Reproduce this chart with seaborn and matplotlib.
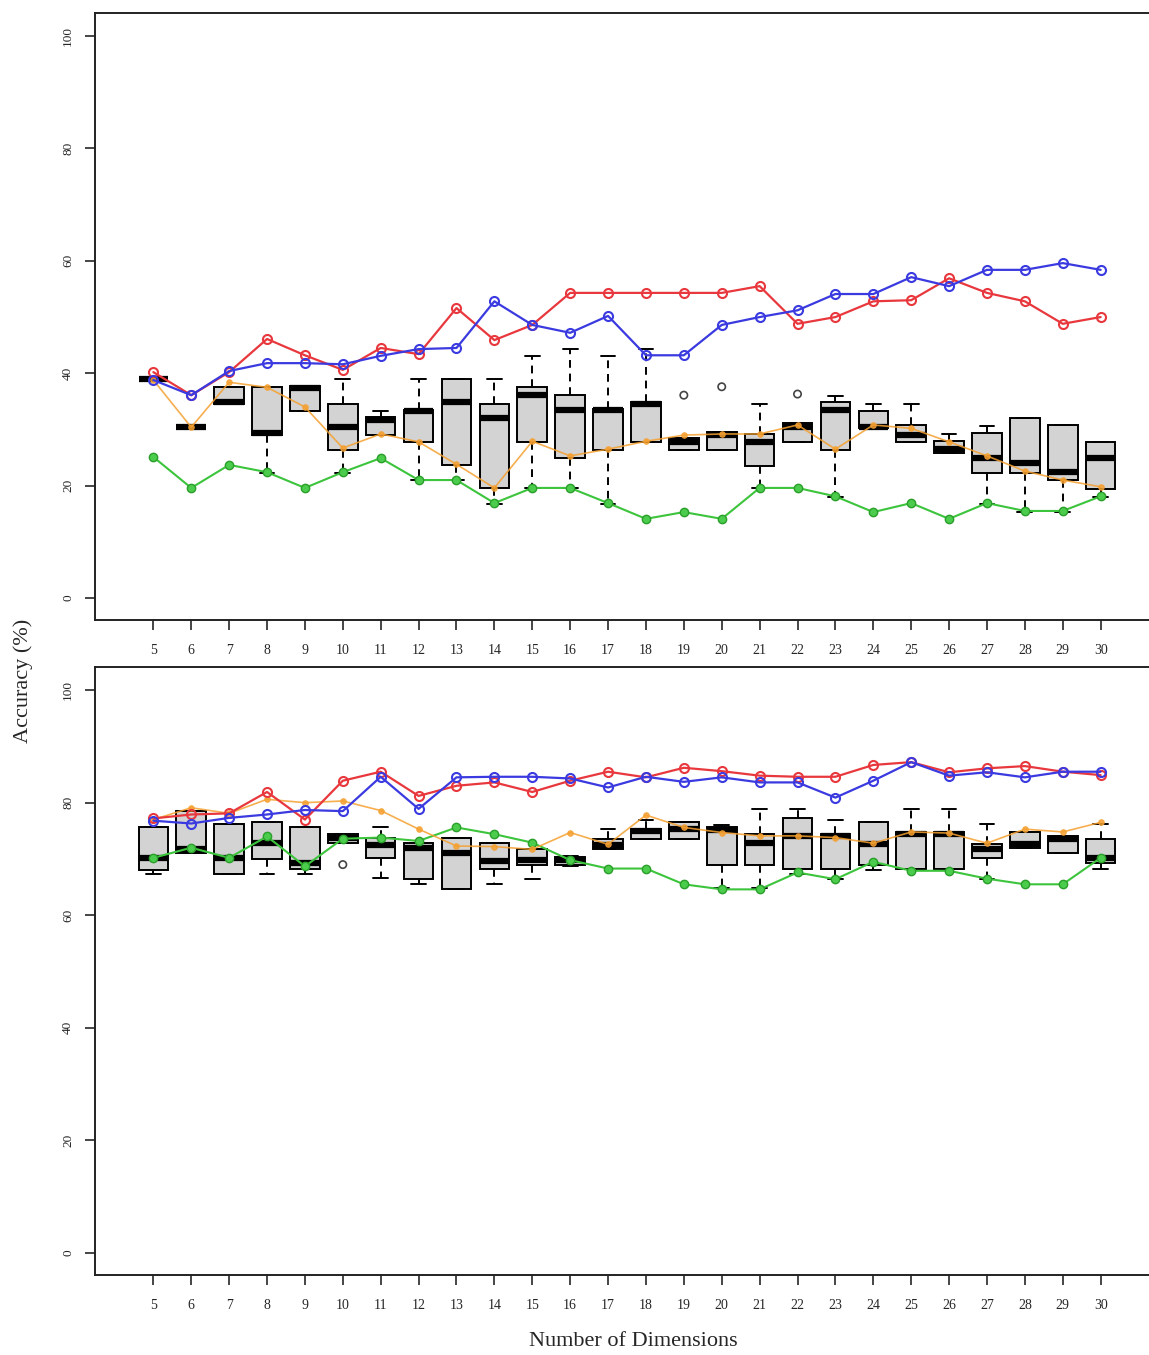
import numpy as np
import pandas as pd
import matplotlib
matplotlib.use("Agg")
import matplotlib.pyplot as plt
import seaborn as sns

dims = list(range(5, 31))

# ---- top panel: lines
top_blue = [38.8, 36.1, 40.4, 41.8, 41.8, 41.6, 43.1, 44.3, 44.5, 52.8, 48.6, 47.2, 50.2,
            43.2, 43.2, 48.6, 50.0, 51.2, 54.1, 54.1, 57.1, 55.5, 58.4, 58.4, 59.6, 58.4]
top_red = [40.2, 36.1, 40.2, 46.1, 43.2, 40.6, 44.5, 43.4, 51.6, 45.9, 48.6, 54.3, 54.3,
           54.3, 54.3, 54.3, 55.5, 48.8, 50.0, 52.8, 53.0, 56.9, 54.3, 52.8, 48.8, 50.0]
top_green = [25.1, 19.6, 23.7, 22.4, 19.6, 22.4, 24.9, 21.0, 21.0, 16.9, 19.6, 19.6, 16.9,
             14.1, 15.3, 14.1, 19.6, 19.6, 18.1, 15.3, 16.9, 14.1, 16.9, 15.5, 15.5, 18.1]
top_orange = [38.8, 30.4, 38.4, 37.5, 34.0, 26.7, 29.2, 27.8, 23.8, 19.6, 27.9, 25.3, 26.5,
              27.9, 29.0, 29.2, 29.2, 30.8, 26.5, 30.8, 30.2, 27.8, 25.3, 22.6, 21.0, 19.8]

# ---- top panel: boxes (whisker low, q1, median, q3, whisker high)
top_lo = [38.9, 30.5, 34.5, 22.2, 33.3, 22.2, 29.0, 21.0, 21.0, 16.8, 19.5, 19.5, 16.7,
          27.8, 26.3, 26.3, 19.5, 27.7, 18.0, 30.2, 27.7, 25.9, 16.8, 15.4, 15.4, 18.0]
top_q1 = [38.9, 30.5, 34.5, 29.0, 33.3, 26.3, 29.0, 27.7, 23.6, 19.5, 27.7, 25.0, 26.3,
          27.8, 26.3, 26.3, 23.5, 27.7, 26.3, 30.2, 27.7, 25.9, 22.3, 22.3, 21.0, 19.4]
top_med = [38.9, 30.5, 34.8, 29.4, 37.3, 30.5, 31.7, 33.3, 34.8, 32.0, 36.2, 33.4, 33.4,
           34.6, 27.8, 29.1, 27.8, 30.5, 33.5, 30.5, 29.1, 26.5, 25.0, 24.0, 22.5, 25.0]
top_q3 = [38.9, 30.5, 37.5, 37.5, 37.8, 34.6, 32.2, 33.5, 39.0, 34.6, 37.6, 36.1, 33.6,
          34.9, 28.4, 29.5, 29.2, 31.1, 34.8, 33.3, 30.8, 27.9, 29.3, 32.0, 30.8, 27.7]
top_hi = [38.9, 30.5, 37.5, 37.5, 37.8, 38.9, 33.3, 38.9, 39.0, 38.9, 43.0, 44.4, 43.0,
          44.4, 28.4, 29.5, 34.6, 31.1, 36.0, 34.6, 34.6, 29.2, 30.7, 32.0, 30.8, 27.7]
top_out_dims = [19, 20, 22]
top_out_vals = [36.1, 37.6, 36.3]

# ---- bottom panel: lines
bot_blue = [76.8, 76.3, 77.3, 77.9, 78.7, 78.5, 84.6, 78.9, 84.5, 84.6, 84.6, 84.3, 82.7,
            84.6, 83.7, 84.5, 83.6, 83.6, 80.9, 83.9, 87.2, 84.8, 85.4, 84.5, 85.5, 85.5]
bot_red = [77.2, 77.9, 78.1, 81.9, 77.0, 83.9, 85.5, 81.2, 83.0, 83.6, 81.9, 83.9, 85.5,
           84.5, 86.2, 85.6, 84.8, 84.6, 84.6, 86.7, 87.2, 85.4, 86.1, 86.5, 85.5, 84.9]
bot_green = [70.2, 72.0, 70.2, 74.0, 68.7, 73.6, 73.8, 73.2, 75.6, 74.4, 72.9, 69.8, 68.3,
             68.3, 65.5, 64.6, 64.6, 67.6, 66.4, 69.5, 67.9, 67.9, 66.5, 65.5, 65.5, 70.2]
bot_orange = [77.0, 79.1, 78.1, 80.6, 80.0, 80.3, 78.6, 75.3, 72.3, 72.2, 71.7, 74.7, 72.6,
              77.8, 75.6, 74.7, 74.1, 74.1, 73.8, 72.8, 74.8, 74.6, 72.8, 75.3, 74.8, 76.5]

# ---- bottom panel: boxes
bot_lo = [67.3, 71.0, 67.3, 67.3, 67.3, 72.9, 66.7, 65.5, 64.6, 65.5, 66.5, 68.8, 71.7,
          73.6, 73.6, 64.9, 64.9, 67.3, 66.4, 68.1, 68.3, 68.3, 66.5, 72.0, 71.0, 68.3]
bot_q1 = [68.1, 71.0, 67.3, 70.0, 68.3, 72.9, 70.2, 66.4, 64.6, 68.3, 68.9, 69.0, 71.7,
          73.6, 73.6, 69.0, 69.0, 68.3, 68.3, 69.0, 68.3, 68.3, 70.2, 72.0, 71.0, 69.3]
bot_med = [70.2, 71.7, 70.2, 72.8, 69.3, 73.8, 72.4, 72.0, 71.0, 69.7, 69.8, 69.8, 72.4,
           75.0, 75.3, 75.2, 72.9, 74.0, 74.1, 72.6, 74.4, 74.5, 71.8, 72.7, 73.5, 70.2]
bot_q3 = [75.6, 78.5, 76.3, 76.5, 75.6, 74.5, 73.7, 72.8, 73.7, 72.8, 71.7, 70.4, 73.6,
          75.4, 76.5, 75.6, 74.5, 77.3, 74.5, 76.5, 74.8, 74.8, 72.6, 74.8, 74.1, 73.6]
bot_hi = [75.6, 78.5, 76.3, 76.5, 75.6, 74.5, 75.7, 72.8, 73.7, 72.8, 71.7, 70.5, 75.4,
          77.0, 76.5, 76.0, 78.8, 78.8, 77.0, 76.5, 78.8, 78.8, 76.2, 74.8, 74.1, 76.2]
bot_out_dims = [10]
bot_out_vals = [69.0]

yticks = [0, 20, 40, 60, 80, 100]

sns.set_style("ticks")
plt.rcParams['font.family'] = ['Liberation Serif', 'DejaVu Serif']


def box_frame(lo, q1, med, q3, hi):
    # five values per dimension -> exact quartiles with whiskers at min/max
    rows = []
    for d, a, b, c, e, f in zip(dims, lo, q1, med, q3, hi):
        for v in (a, b, c, e, f):
            rows.append((d, v))
    return pd.DataFrame(rows, columns=['dim', 'acc'])


def panel(ax, lo, q1, med, q3, hi, out_d, out_v, blue, red, green, orange):
    df = box_frame(lo, q1, med, q3, hi)
    sns.boxplot(data=df, x='dim', y='acc', ax=ax, native_scale=True, whis=(0, 100),
                color='#d3d3d3', saturation=1, linecolor='black', linewidth=1.4,
                width=0.78, showfliers=False,
                medianprops=dict(linewidth=4.5, color='black'),
                whiskerprops=dict(linestyle=(0, (4, 3)), linewidth=1.4),
                capprops=dict(linewidth=1.4))
    sns.scatterplot(x=out_d, y=out_v, ax=ax, marker='o', s=28, facecolor='none',
                    edgecolor='#444444', linewidth=1.2, zorder=5)
    sns.lineplot(x=dims, y=green, ax=ax, color='#3cc43c', linewidth=1.5, marker='o',
                 markersize=6, markerfacecolor='#4ccc4c', markeredgecolor='#2a9f2a',
                 markeredgewidth=1.0, zorder=4)
    sns.lineplot(x=dims, y=orange, ax=ax, color='#f5a030', linewidth=1.2, marker='o',
                 markersize=4, markerfacecolor='#f5a030', markeredgecolor='#f5a030',
                 alpha=0.85, zorder=4)
    sns.lineplot(x=dims, y=red, ax=ax, color='#e8383d', linewidth=1.6, marker='o',
                 markersize=6.5, markerfacecolor='none', markeredgecolor='#e8383d',
                 markeredgewidth=1.5, zorder=5)
    sns.lineplot(x=dims, y=blue, ax=ax, color='#3a3ae0', linewidth=1.6, marker='o',
                 markersize=6.5, markerfacecolor='none', markeredgecolor='#3a3ae0',
                 markeredgewidth=1.5, zorder=5)
    ax.set_xlim(3.46, 31.54)
    ax.set_ylim(-3.9, 104.1)
    ax.set_xticks(dims)
    ax.set_xticklabels([str(d) for d in dims])
    ax.set_yticks(yticks)
    ax.set_yticklabels([str(t) for t in yticks], rotation=90, va='center')
    ax.tick_params(axis='x', length=7, width=1.2, pad=10, labelsize=10)
    ax.tick_params(axis='y', length=7, width=1.2, pad=8, labelsize=9.5)
    ax.set_xlabel(None)
    ax.set_ylabel(None)
    for s in ax.spines.values():
        s.set_linewidth(1.4)
        s.set_color('#222222')


fig = plt.figure(figsize=(11.49, 13.55), dpi=100)
W, H = 1149, 1355
ax1 = fig.add_axes([95 / W, 1 - 620 / H, 1064 / W, 607 / H])
ax2 = fig.add_axes([95 / W, 1 - 1275 / H, 1064 / W, 608 / H])

panel(ax1, top_lo, top_q1, top_med, top_q3, top_hi, top_out_dims, top_out_vals,
      top_blue, top_red, top_green, top_orange)
panel(ax2, bot_lo, bot_q1, bot_med, bot_q3, bot_hi, bot_out_dims, bot_out_vals,
      bot_blue, bot_red, bot_green, bot_orange)

fig.text(23 / W, 1 - 681 / H, 'Accuracy (%)', rotation=90, ha='center', va='center',
         fontsize=16)
fig.text(633 / W, 1 - 1342 / H, 'Number of Dimensions', ha='center', va='center',
         fontsize=16)

fig.savefig('out.png', dpi=100)
